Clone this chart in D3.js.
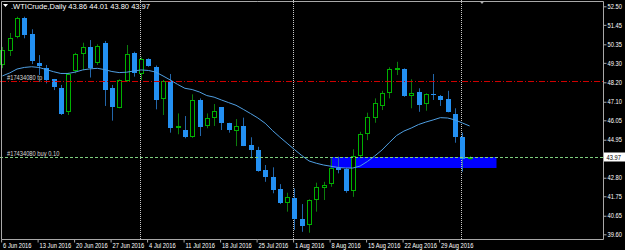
<!DOCTYPE html>
<html>
<head>
<meta charset="utf-8">
<script src="https://cdn.jsdelivr.net/npm/d3@7"></script>
<style>
  html, body { margin: 0; padding: 0; background: #000; }
  svg { display: block; }
  text { font-family: "Liberation Sans", Arial, sans-serif; font-size: 7px; }
</style>
</head>
<body>
<div id="chart"></div>
<script>
// daily bars, 6 Jun 2016 .. 2 Sep 2016 (index = trading day)
const opens = [49.18, 49.93, 50.75, 51.82, 50.92, 49.27, 49.03, 48.37, 47.89, 46.50,
  48.80, 49.76, 50.21, 49.31, 50.44, 47.86, 46.76, 48.29, 49.84, 48.67,
  49.52, 49.08, 47.24, 48.27, 45.63, 45.48, 45.08, 47.20, 45.69, 46.16,
  46.78, 45.88, 45.46, 45.74, 44.67, 44.37, 43.24, 42.86, 42.14, 41.39,
  41.63, 40.45, 40.12, 41.54, 42.20, 42.43, 43.33, 43.28, 42.06, 43.99,
  45.26, 46.16, 46.86, 47.58, 48.93, 48.93, 47.42, 47.67, 46.95, 47.54,
  47.41, 47.24, 46.40, 45.12, 43.86];
const highs = [50.20, 50.99, 51.91, 51.91, 51.20, 49.74, 49.18, 48.39, 48.05, 48.74,
  49.87, 50.44, 50.59, 50.35, 50.54, 48.05, 48.37, 50.31, 49.93, 49.61,
  49.56, 49.15, 48.33, 48.67, 46.44, 46.29, 47.52, 47.29, 46.44, 46.97,
  46.79, 45.91, 46.12, 46.20, 45.09, 44.55, 43.52, 43.39, 42.44, 41.95,
  42.20, 41.31, 41.58, 42.52, 42.57, 43.90, 43.99, 43.33, 44.41, 45.40,
  46.48, 47.29, 47.72, 49.05, 49.36, 48.99, 48.37, 47.86, 47.58, 48.67,
  47.48, 47.72, 46.73, 45.35, 44.01];
const lows = [49.00, 49.69, 50.69, 50.69, 49.23, 48.61, 48.14, 47.76, 46.35, 46.35,
  48.71, 48.90, 48.47, 49.18, 46.86, 46.03, 46.73, 48.23, 48.52, 48.33,
  49.08, 46.67, 46.35, 45.35, 45.26, 45.03, 45.06, 45.16, 45.60, 45.73,
  45.50, 45.35, 44.59, 44.59, 43.90, 43.14, 42.57, 41.92, 41.31, 40.88,
  39.84, 39.74, 39.69, 40.88, 41.54, 42.29, 43.05, 41.95, 41.72, 43.90,
  44.93, 45.91, 46.63, 47.29, 48.61, 47.38, 46.73, 46.53, 46.59, 47.20,
  46.86, 46.50, 44.78, 43.14, 43.80];
const closes = [50.03, 50.69, 51.82, 50.88, 49.42, 49.08, 48.33, 47.92, 46.44, 48.67,
  49.78, 50.18, 49.05, 50.27, 47.76, 46.80, 48.33, 49.80, 48.71, 49.52,
  49.12, 47.24, 48.27, 45.63, 45.72, 45.06, 47.20, 45.69, 46.16, 46.57,
  45.88, 45.46, 45.72, 44.61, 44.37, 43.20, 42.86, 42.10, 41.35, 41.72,
  40.45, 40.07, 41.54, 42.29, 42.37, 43.33, 43.24, 42.06, 44.03, 45.26,
  46.25, 47.01, 47.58, 48.93, 49.03, 47.42, 47.61, 46.91, 47.52, 47.46,
  47.16, 46.53, 45.12, 43.86, 43.97];
const maValues = [48.56, 48.73, 48.95, 49.04, 49.08, 49.04, 48.92, 48.80, 48.70, 48.70,
  48.78, 48.90, 48.96, 48.99, 48.92, 48.81, 48.75, 48.77, 48.84, 48.90,
  48.87, 48.78, 48.56, 48.33, 48.08, 47.86, 47.79, 47.65, 47.45, 47.36,
  47.20, 47.05, 46.90, 46.67, 46.43, 46.18, 45.88, 45.47, 45.10, 44.75,
  44.40, 44.06, 43.75, 43.62, 43.52, 43.45, 43.38, 43.35, 43.35, 43.46,
  43.72, 44.03, 44.37, 44.79, 45.19, 45.44, 45.61, 45.81, 45.95, 46.07,
  46.20, 46.18, 46.07, 45.90, 45.73];

const dateLabels = ['6 Jun 2016', '13 Jun 2016', '20 Jun 2016', '27 Jun 2016', '4 Jul 2016',
  '11 Jul 2016', '18 Jul 2016', '25 Jul 2016', '1 Aug 2016', '8 Aug 2016',
  '15 Aug 2016', '22 Aug 2016', '29 Aug 2016'];
const dateIndex = [0, 5, 10, 15, 20, 25, 30, 35, 40, 45, 50, 55, 60];
const monthStarts = [19, 40, 63];
const priceTicks = [52.50, 51.45, 50.35, 49.30, 48.20, 47.10, 46.05, 44.95, 42.80, 41.75, 40.65, 39.60];

const symbolText = '.WTICrude,Daily 43.86 44.01 43.80 43.97';
const lastPrice = 43.97;
const tpPrice = 48.27;
const tpLabel = '#17434080 tp';
const buyPrice = 43.97;
const buyLabel = '#17434080 buy 0.10';
const zoneBars = [45, 67.8];
const zonePrices = [43.97, 43.35];

const width = 625;
const height = 250;
const plotRight = 603.5;
const plotBottom = 239.5;

const bullColor = '#00b000';
const bullWick = '#0c7d0c';
const bearColor = '#2390f2';
const bearWick = '#2266aa';

const x = d3.scaleLinear().domain([0, 64]).range([2.4, 469.6]);
const y = d3.scaleLinear().domain([39.60, 52.50]).range([234.3, 6.3]);

const svg = d3.select('#chart')
  .append('svg')
  .attr('width', width)
  .attr('height', height);

svg.append('rect')
  .attr('width', width)
  .attr('height', height)
  .attr('fill', '#000');

svg.append('defs').append('clipPath')
  .attr('id', 'plot')
  .append('rect')
  .attr('x', 0)
  .attr('y', 0)
  .attr('width', plotRight)
  .attr('height', plotBottom);

const plot = svg.append('g').attr('clip-path', 'url(#plot)');

//order zone rectangle (background object)
plot.append('rect')
  .attr('x', Math.round(x(zoneBars[0])) - 0.5)
  .attr('y', Math.round(y(zonePrices[0])))
  .attr('width', Math.round(x(zoneBars[1]) - x(zoneBars[0])))
  .attr('height', Math.round(y(zonePrices[1]) - y(zonePrices[0])))
  .attr('fill', '#0000ff');

//month separators
plot.selectAll('line.sep')
  .data(monthStarts)
  .enter()
  .append('line')
  .attr('class', 'sep')
  .attr('x1', d => Math.round(x(d)) - 0.5)
  .attr('x2', d => Math.round(x(d)) - 0.5)
  .attr('y1', 0)
  .attr('y2', plotBottom)
  .attr('stroke', '#c8c8c8')
  .attr('stroke-dasharray', '1,1');

//candles
const bars = d3.range(opens.length);
const candle = plot.selectAll('g.candle')
  .data(bars)
  .enter()
  .append('g')
  .attr('class', 'candle');

candle.append('line')
  .attr('x1', i => Math.round(x(i)) + 0.5)
  .attr('x2', i => Math.round(x(i)) + 0.5)
  .attr('y1', i => y(highs[i]))
  .attr('y2', i => y(lows[i]))
  .attr('stroke', i => closes[i] >= opens[i] ? bullWick : bearWick);

candle.filter(i => closes[i] >= opens[i])
  .append('rect')
  .attr('x', i => Math.round(x(i)) - 1.5)
  .attr('y', i => Math.round(y(closes[i])) + 0.5)
  .attr('width', 4)
  .attr('height', i => Math.max(1, Math.round(y(opens[i]) - y(closes[i])) - 1))
  .attr('fill', '#000')
  .attr('stroke', bullColor);

candle.filter(i => closes[i] < opens[i])
  .append('rect')
  .attr('x', i => Math.round(x(i)) - 2)
  .attr('y', i => Math.round(y(opens[i])))
  .attr('width', 5)
  .attr('height', i => Math.max(1, Math.round(y(closes[i]) - y(opens[i]))))
  .attr('fill', bearColor);

//moving average
const maLine = d3.line()
  .x((d, i) => x(i))
  .y(d => y(d));

plot.append('path')
  .datum(maValues)
  .attr('d', maLine)
  .attr('fill', 'none')
  .attr('stroke', '#4f9fe2')
  .attr('stroke-width', 1);

//order lines
plot.append('line')
  .attr('x1', 0)
  .attr('x2', plotRight)
  .attr('y1', Math.round(y(tpPrice)) + 0.5)
  .attr('y2', Math.round(y(tpPrice)) + 0.5)
  .attr('stroke', '#d00000')
  .attr('stroke-dasharray', '6,2,1,2');

plot.append('line')
  .attr('x1', 0)
  .attr('x2', plotRight)
  .attr('y1', Math.round(y(buyPrice)) + 0.5)
  .attr('y2', Math.round(y(buyPrice)) + 0.5)
  .attr('stroke', '#7ed07e')
  .attr('stroke-dasharray', '3,2');

plot.append('text')
  .attr('class', 'sq')
  .attr('x', 7)
  .attr('y', y(tpPrice) - 1.5)
  .style('fill', '#d8d8d8')
  .text(tpLabel);

plot.append('text')
  .attr('class', 'sq')
  .attr('x', 7)
  .attr('y', y(buyPrice) - 1.5)
  .style('fill', '#d8d8d8')
  .text(buyLabel);

//frame
svg.append('path')
  .attr('d', `M1.5,${plotBottom}V1.5H${plotRight}V${plotBottom}H1.5`)
  .attr('fill', 'none')
  .attr('stroke', '#a8a8a8');

//price axis
const yAxis = d3.axisRight(y)
  .tickValues(priceTicks)
  .tickSize(3)
  .tickPadding(1)
  .tickFormat(d3.format('.2f'));

svg.append('g')
  .attr('transform', `translate(${plotRight},0)`)
  .call(yAxis)
  .call(g => g.select('.domain').remove())
  .call(g => g.selectAll('line').attr('stroke', '#a8a8a8'))
  .call(g => g.selectAll('text')
    .attr('class', 'sq')
    .style('fill', '#fff')
    .style('font-size', '7px')
    .style('font-family', '"Liberation Sans", Arial, sans-serif'));

//date axis
const xAxis = d3.axisBottom(x)
  .tickValues(dateIndex)
  .tickSize(3)
  .tickFormat((d, i) => dateLabels[i]);

svg.append('g')
  .attr('transform', `translate(-1.3,${plotBottom})`)
  .call(xAxis)
  .call(g => g.select('.domain').remove())
  .call(g => g.selectAll('line').attr('stroke', '#a8a8a8'))
  .call(g => g.selectAll('text')
    .attr('class', 'sq')
    .attr('text-anchor', 'start')
    .attr('x', 1.5)
    .attr('y', 8)
    .attr('dy', 0)
    .style('fill', '#fff')
    .style('font-size', '7px')
    .style('font-family', '"Liberation Sans", Arial, sans-serif'));

//current price box
svg.append('rect')
  .attr('x', 604)
  .attr('y', Math.round(y(lastPrice)) - 4.5)
  .attr('width', 21)
  .attr('height', 9)
  .attr('fill', '#fff');

svg.append('text')
  .attr('class', 'sq')
  .attr('x', 606.5)
  .attr('y', y(lastPrice) + 2.5)
  .style('fill', '#000')
  .text(d3.format('.2f')(lastPrice));

//header
svg.append('path')
  .attr('d', 'M3,4H8L5.5,7Z')
  .attr('fill', '#fff');

svg.append('text')
  .attr('x', 11)
  .attr('y', 8.5)
  .attr('textLength', 139)
  .attr('lengthAdjust', 'spacingAndGlyphs')
  .style('fill', '#fff')
  .text(symbolText);

//chart shift marker
svg.append('path')
  .attr('d', 'M479.5,1H484.5L482,4Z')
  .attr('fill', '#b0b0b0');

//narrow the terminal font like the screenshot
svg.selectAll('text.sq').each(function () {
  const len = this.getComputedTextLength();
  d3.select(this)
    .attr('textLength', len * 0.82)
    .attr('lengthAdjust', 'spacingAndGlyphs');
});
</script>
</body>
</html>
